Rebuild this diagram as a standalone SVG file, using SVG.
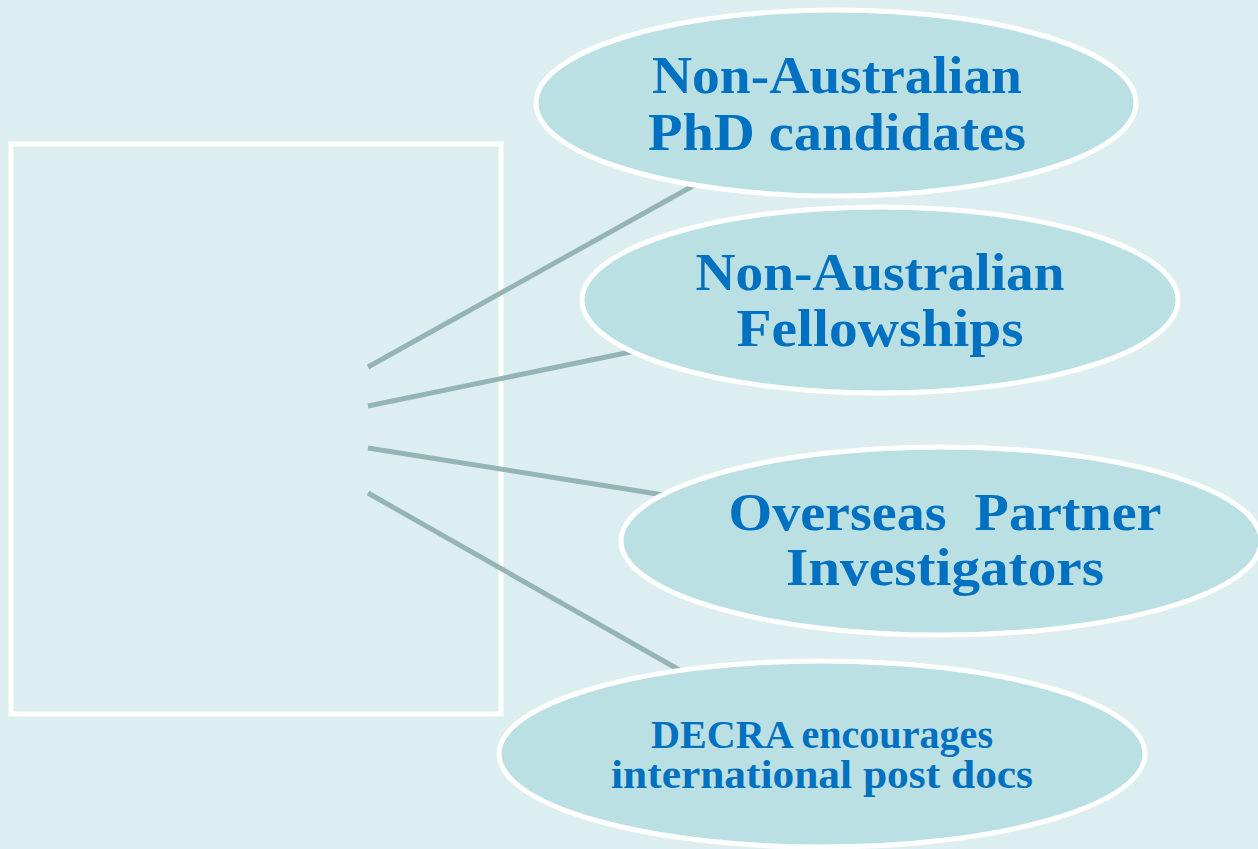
<svg xmlns="http://www.w3.org/2000/svg" width="1258" height="849" viewBox="0 0 1258 849">
<style>
.conn{stroke:#95b4b6;stroke-width:5;fill:none}
.ell{fill:#bbe0e3;stroke:#ffffff;stroke-width:5}
.t{font-family:"Liberation Serif",serif;font-weight:bold;fill:#0070c0;text-anchor:middle}
.big{font-size:53px}
.small{font-size:39px}
</style>
<rect width="1258" height="849" fill="#ddeef0"/>
<g id="box"><rect x="11" y="144" width="490" height="570" fill="none" stroke="#ffffff" stroke-width="5"/></g>
<g id="connectors">
<line class="conn" x1="368" y1="367" x2="700" y2="182"/>
<line class="conn" x1="368" y1="406" x2="640" y2="350"/>
<line class="conn" x1="368" y1="448" x2="670" y2="496"/>
<line class="conn" x1="368" y1="493" x2="690" y2="676"/>
</g>
<g id="node-phd">
<ellipse class="ell" cx="836" cy="103" rx="300" ry="93"/>
<text class="t big" x="837" y="93" textLength="370" lengthAdjust="spacingAndGlyphs">Non-Australian</text>
<text class="t big" x="837" y="150" textLength="378" lengthAdjust="spacingAndGlyphs">PhD candidates</text>
</g>
<g id="node-fellowships">
<ellipse class="ell" cx="880" cy="300" rx="298" ry="93"/>
<text class="t big" x="880" y="290" textLength="369" lengthAdjust="spacingAndGlyphs">Non-Australian</text>
<text class="t big" x="880" y="346" textLength="287" lengthAdjust="spacingAndGlyphs">Fellowships</text>
</g>
<g id="node-overseas">
<ellipse class="ell" cx="941" cy="541" rx="320" ry="94"/>
<text class="t big" x="945" y="530" textLength="433" lengthAdjust="spacingAndGlyphs" xml:space="preserve">Overseas  Partner</text>
<text class="t big" x="945" y="585" textLength="318" lengthAdjust="spacingAndGlyphs">Investigators</text>
</g>
<g id="node-decra">
<ellipse class="ell" cx="822" cy="754" rx="323" ry="93"/>
<text class="t small" x="822" y="748" textLength="342" lengthAdjust="spacingAndGlyphs">DECRA encourages</text>
<text class="t small" x="822" y="788" textLength="422" lengthAdjust="spacingAndGlyphs">international post docs</text>
</g>
</svg>
